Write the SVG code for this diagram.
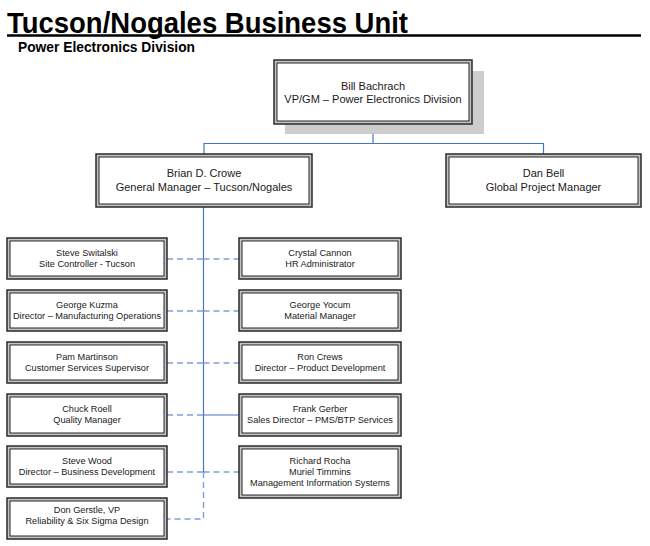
<svg xmlns="http://www.w3.org/2000/svg" width="650" height="546" viewBox="0 0 650 546">
<style>
  .o{fill:#c4c4c4;stroke:#2a2a2a;stroke-width:1.5}
  .i{fill:#fff;stroke:#111;stroke-width:0.9}
  .t{font-family:"Liberation Sans",Arial,sans-serif;fill:#1a1a1a;text-anchor:middle}
  .big{font-size:11px}
  .sm{font-size:9.2px}
  .solid{stroke:#4676c8;stroke-width:1.2;fill:none}
  .dash{stroke:#7f9fd9;stroke-width:1.4;fill:none;stroke-dasharray:6,4}
</style>
<rect width="650" height="546" fill="#fff"/>
<g id="title">
  <text x="7" y="32.5" font-family="'Liberation Sans',Arial,sans-serif" font-weight="bold" font-size="29" textLength="401" lengthAdjust="spacingAndGlyphs" fill="#000">Tucson/Nogales Business Unit</text>
  <line x1="7" y1="35.5" x2="641" y2="35.5" stroke="#000" stroke-width="2.5"/>
  <text x="18" y="52" font-family="'Liberation Sans',Arial,sans-serif" font-weight="bold" font-size="14" textLength="177" lengthAdjust="spacingAndGlyphs" fill="#000">Power Electronics Division</text>
</g>
<g id="connectors">
  <polyline class="solid" points="373,124 373,143.5 204,143.5 204,154"/>
  <polyline class="solid" points="373,143.5 543.5,143.5 543.5,154"/>
  <line class="solid" x1="203.5" y1="207" x2="203.5" y2="472"/>
  <line class="solid" x1="203.5" y1="415" x2="239" y2="415"/>
  <line class="dash" x1="167" y1="259" x2="203.5" y2="259"/>
  <line class="dash" x1="203.5" y1="259" x2="239" y2="259"/>
  <line class="dash" x1="167" y1="311" x2="203.5" y2="311"/>
  <line class="dash" x1="203.5" y1="311" x2="239" y2="311"/>
  <line class="dash" x1="167" y1="363" x2="203.5" y2="363"/>
  <line class="dash" x1="203.5" y1="363" x2="239" y2="363"/>
  <line class="dash" x1="167" y1="415" x2="203.5" y2="415"/>
  <line class="dash" x1="167" y1="472" x2="203.5" y2="472"/>
  <line class="dash" x1="203.5" y1="472" x2="239" y2="472"/>
  <polyline class="dash" points="203.5,472 203.5,519 167,519"/>
</g>
<g id="bill">
  <rect x="285" y="71" width="199" height="63" fill="#cdcdcd"/>
  <rect class="o" x="274" y="60" width="198" height="64"/>
  <rect class="i" x="277" y="63" width="192" height="58"/>
  <text class="t big" x="373" y="89.5">Bill Bachrach</text>
  <text class="t big" x="373" y="103">VP/GM – Power Electronics Division</text>
</g>
<g id="brian">
  <rect class="o" x="96" y="154" width="216" height="53"/>
  <rect class="i" x="99" y="157" width="210" height="47"/>
  <text class="t big" x="204" y="177">Brian D. Crowe</text>
  <text class="t big" x="204" y="191">General Manager – Tucson/Nogales</text>
</g>
<g id="dan">
  <rect class="o" x="446" y="154" width="195" height="53"/>
  <rect class="i" x="449" y="157" width="189" height="47"/>
  <text class="t big" x="543.5" y="177">Dan Bell</text>
  <text class="t big" x="543.5" y="191">Global Project Manager</text>
</g>
<g id="switalski">
  <rect class="o" x="7" y="238" width="160" height="41"/>
  <rect class="i" x="10" y="241" width="154" height="35"/>
  <text class="t sm" x="87" y="256.3">Steve Switalski</text>
  <text class="t sm" x="87" y="267.3">Site Controller - Tucson</text>
</g>
<g id="kuzma">
  <rect class="o" x="7" y="290" width="160" height="41"/>
  <rect class="i" x="10" y="293" width="154" height="35"/>
  <text class="t sm" x="87" y="308.3">George Kuzma</text>
  <text class="t sm" x="87" y="319.3">Director – Manufacturing Operations</text>
</g>
<g id="martinson">
  <rect class="o" x="7" y="342" width="160" height="41"/>
  <rect class="i" x="10" y="345" width="154" height="35"/>
  <text class="t sm" x="87" y="360.3">Pam Martinson</text>
  <text class="t sm" x="87" y="371.3">Customer Services Supervisor</text>
</g>
<g id="roell">
  <rect class="o" x="7" y="394" width="160" height="42"/>
  <rect class="i" x="10" y="397" width="154" height="36"/>
  <text class="t sm" x="87" y="412.3">Chuck Roell</text>
  <text class="t sm" x="87" y="423.3">Quality Manager</text>
</g>
<g id="wood">
  <rect class="o" x="7" y="446" width="160" height="41"/>
  <rect class="i" x="10" y="449" width="154" height="35"/>
  <text class="t sm" x="87" y="464.3">Steve Wood</text>
  <text class="t sm" x="87" y="475.3">Director – Business Development</text>
</g>
<g id="gerstle">
  <rect class="o" x="7" y="498" width="160" height="41"/>
  <rect class="i" x="10" y="501" width="154" height="35"/>
  <text class="t sm" x="87" y="512.5">Don Gerstle, VP</text>
  <text class="t sm" x="87" y="523.5">Reliability &amp; Six Sigma Design</text>
</g>
<g id="cannon">
  <rect class="o" x="239" y="238" width="162" height="41"/>
  <rect class="i" x="242" y="241" width="156" height="35"/>
  <text class="t sm" x="320" y="256.3">Crystal Cannon</text>
  <text class="t sm" x="320" y="267.3">HR Administrator</text>
</g>
<g id="yocum">
  <rect class="o" x="239" y="290" width="162" height="41"/>
  <rect class="i" x="242" y="293" width="156" height="35"/>
  <text class="t sm" x="320" y="308.3">George Yocum</text>
  <text class="t sm" x="320" y="319.3">Material Manager</text>
</g>
<g id="crews">
  <rect class="o" x="239" y="342" width="162" height="41"/>
  <rect class="i" x="242" y="345" width="156" height="35"/>
  <text class="t sm" x="320" y="360.3">Ron Crews</text>
  <text class="t sm" x="320" y="371.3">Director – Product Development</text>
</g>
<g id="gerber">
  <rect class="o" x="239" y="394" width="162" height="42"/>
  <rect class="i" x="242" y="397" width="156" height="36"/>
  <text class="t sm" x="320" y="412.3">Frank Gerber</text>
  <text class="t sm" x="320" y="423.3">Sales Director – PMS/BTP Services</text>
</g>
<g id="rocha">
  <rect class="o" x="239" y="446" width="162" height="52"/>
  <rect class="i" x="242" y="449" width="156" height="46"/>
  <text class="t sm" x="320" y="464.3">Richard Rocha</text>
  <text class="t sm" x="320" y="475.3">Muriel Timmins</text>
  <text class="t sm" x="320" y="486.3">Management Information Systems</text>
</g>
</svg>
